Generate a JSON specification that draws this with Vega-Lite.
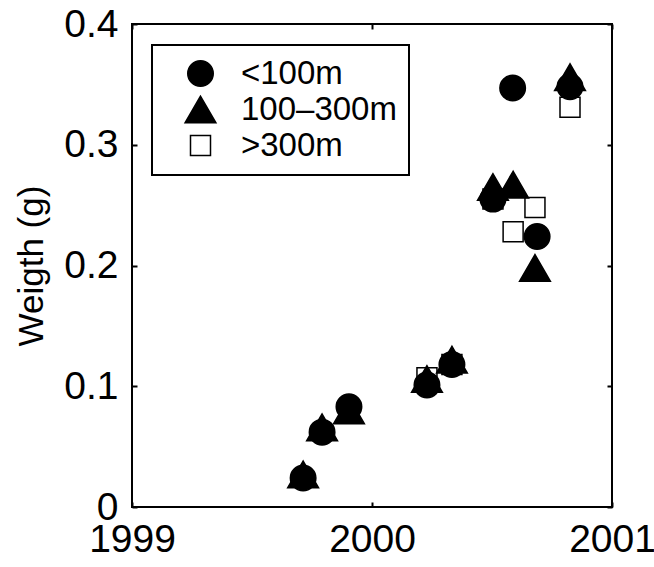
{
  "$schema": "https://vega.github.io/schema/vega-lite/v6.json",
  "width": 480,
  "height": 483,
  "autosize": "none",
  "padding": {"left": 132, "top": 24, "right": 42, "bottom": 60},
  "background": "white",
  "config": {
    "font": "Liberation Sans",
    "view": {"stroke": "black", "strokeWidth": 2},
    "axis": {
      "domain": false,
      "grid": false,
      "tickColor": "black",
      "tickWidth": 2,
      "tickSize": -5,
      "labelColor": "black",
      "labelFont": "Liberation Sans",
      "labelFontSize": 39,
      "labelOverlap": false,
      "titleFont": "Liberation Sans",
      "titleFontSize": 35,
      "titleFontWeight": "normal",
      "titleColor": "black"
    },
    "legend": {
      "labelFont": "Liberation Sans",
      "labelFontSize": 33,
      "labelColor": "black",
      "strokeWidth": 2
    }
  },
  "data": {
    "values": [
      {"year": 2000.229, "weight": 0.107, "depth": ">300m"},
      {"year": 2000.333, "weight": 0.118, "depth": ">300m"},
      {"year": 2000.504, "weight": 0.255, "depth": ">300m"},
      {"year": 2000.588, "weight": 0.228, "depth": ">300m"},
      {"year": 2000.679, "weight": 0.248, "depth": ">300m"},
      {"year": 2000.825, "weight": 0.331, "depth": ">300m"},
      {"year": 1999.713, "weight": 0.027, "depth": "100–300m"},
      {"year": 1999.792, "weight": 0.066, "depth": "100–300m"},
      {"year": 1999.904, "weight": 0.080, "depth": "100–300m"},
      {"year": 2000.229, "weight": 0.106, "depth": "100–300m"},
      {"year": 2000.333, "weight": 0.122, "depth": "100–300m"},
      {"year": 2000.504, "weight": 0.265, "depth": "100–300m"},
      {"year": 2000.588, "weight": 0.267, "depth": "100–300m"},
      {"year": 2000.679, "weight": 0.198, "depth": "100–300m"},
      {"year": 1999.713, "weight": 0.024, "depth": "<100m"},
      {"year": 1999.792, "weight": 0.062, "depth": "<100m"},
      {"year": 1999.904, "weight": 0.083, "depth": "<100m"},
      {"year": 2000.229, "weight": 0.101, "depth": "<100m"},
      {"year": 2000.333, "weight": 0.118, "depth": "<100m"},
      {"year": 2000.504, "weight": 0.255, "depth": "<100m"},
      {"year": 2000.586, "weight": 0.347, "depth": "<100m"},
      {"year": 2000.688, "weight": 0.224, "depth": "<100m"},
      {"year": 2000.825, "weight": 0.348, "depth": "<100m"},
      {"year": 2000.825, "weight": 0.356, "depth": "100–300m"}
    ]
  },
  "layer": [
    {
      "mark": {"type": "point", "filled": true, "opacity": 1, "stroke": "black", "strokeWidth": 1.5},
      "encoding": {
        "x": {
          "field": "year", "type": "quantitative",
          "scale": {"domain": [1999, 2001], "nice": false, "zero": false},
          "axis": {"orient": "bottom", "values": [1999, 2000, 2001], "labelExpr": "format(datum.value, 'd')", "title": null, "labelPadding": 18, "labelFlush": false, "labelOverlap": false, "labelSeparation": 0}
        },
        "y": {
          "field": "weight", "type": "quantitative",
          "scale": {"domain": [0, 0.4], "nice": false},
          "axis": {"orient": "left", "values": [0, 0.1, 0.2, 0.3, 0.4], "labelExpr": "datum.value == 0 ? '0' : format(datum.value, '.1f')", "title": "Weigth (g)", "labelPadding": 19, "titlePadding": 14, "labelFlush": false, "labelOverlap": false}
        },
        "shape": {
          "field": "depth", "type": "nominal",
          "scale": {"domain": ["<100m", "100–300m", ">300m"], "range": ["circle", "triangle-up", "square"]},
          "legend": {
            "title": null, "orient": "none", "legendX": 20, "legendY": 21,
            "strokeColor": "black", "fillColor": "white",
            "padding": 12, "symbolOffset": 20, "labelOffset": 24, "rowPadding": 2,
            "symbolStrokeColor": "black", "symbolStrokeWidth": 1.5
          }
        },
        "fill": {
          "field": "depth", "type": "nominal",
          "scale": {"domain": ["<100m", "100–300m", ">300m"], "range": ["black", "black", "white"]},
          "legend": {"title": null}
        },
        "size": {
          "field": "depth", "type": "nominal",
          "scale": {"type": "ordinal", "domain": ["<100m", "100–300m", ">300m"], "range": [650, 950, 400]},
          "legend": {"title": null}
        }
      }
    },
    {
      "mark": {"type": "point", "opacity": 0},
      "encoding": {
        "x": {
          "field": "year", "type": "quantitative",
          "scale": {"domain": [1999, 2001], "nice": false, "zero": false},
          "axis": {"orient": "top", "values": [1999, 2000, 2001], "labels": false, "title": null}
        },
        "y": {
          "field": "weight", "type": "quantitative",
          "scale": {"domain": [0, 0.4], "nice": false},
          "axis": {"orient": "right", "values": [0, 0.1, 0.2, 0.3, 0.4], "labels": false, "title": null}
        }
      }
    }
  ],
  "resolve": {"axis": {"x": "independent", "y": "independent"}}
}
